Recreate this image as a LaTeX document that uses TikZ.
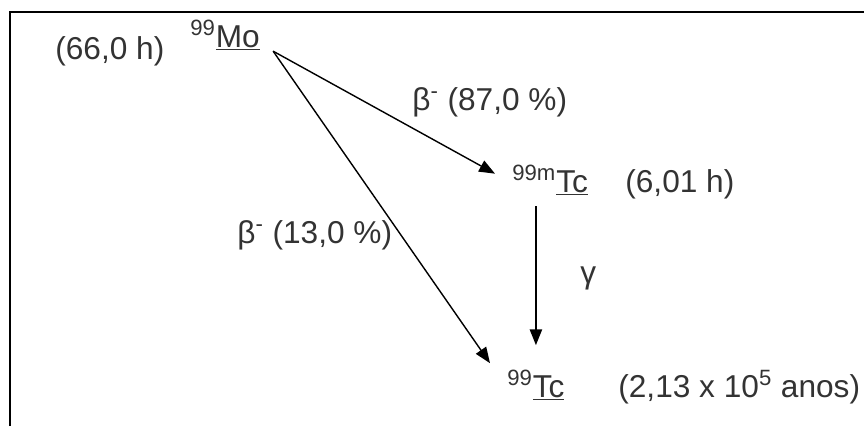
\documentclass[tikz,border=0pt]{standalone}
\usepackage{fontspec}
\setmainfont{Liberation Sans}
\usetikzlibrary{arrows.meta, positioning, calc}

\begin{document}
\begin{tikzpicture}[
  x=0.02cm, y=-0.02cm,
  lbl/.style={inner sep=0pt, anchor=base west, font=\fontsize{18}{21}\selectfont, text=black!80},
  nucl/.style={lbl},
  decay/.style={-{Triangle[length=9pt, width=7pt]}, line width=0.8pt}
]
  \useasboundingbox (0,0) rectangle (864,426);
  \draw[line width=1.1pt] (10,426) -- (10,12) -- (864,12);

  \node[nucl] (mo) at (190,47) {\textsuperscript{99}\underline{Mo}};
  \node[nucl] (mtc) at (512,192) {\textsuperscript{99m}\underline{Tc}};
  \node[nucl] (tc) at (507,397) {\textsuperscript{99}\underline{Tc}};

  \node[lbl] (tmo) at (55,59) {(66,0 h)};
  \node[lbl] (tmtc) at (625,192) {(6,01 h)};
  \node[lbl] (ttc) at (618,397) {(2,13 x 10\textsuperscript{5} anos)};

  \node[lbl] (b87) at (412,110) {β\textsuperscript{-} (87,0 \%)};
  \node[lbl] (b13) at (237,243) {β\textsuperscript{-} (13,0 \%)};
  \node[lbl] (gam) at (580,283) {γ};

  \draw[decay] ($(mo.south east)+(13,0)$) -- ($(mtc.west)+(-17,-7)$);
  \draw[decay] ($(mo.south east)+(13,0)$) -- ($(tc.north west)+(-17,-7)$);
  \draw[decay] ($(tc.north |- mtc.south)+(0,10)$) -- ($(tc.north)+(0,-25)$);
\end{tikzpicture}
\end{document}
